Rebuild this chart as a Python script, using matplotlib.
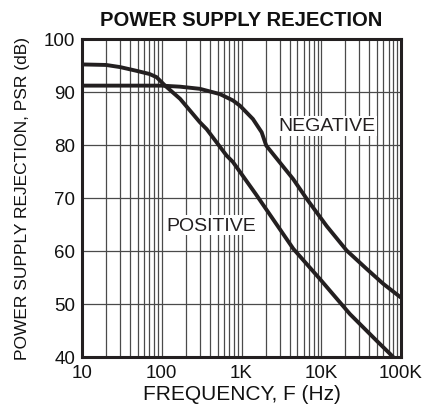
import matplotlib
matplotlib.use("Agg")
import matplotlib.pyplot as plt
import numpy as np
from matplotlib.ticker import LogLocator, FixedLocator, NullFormatter

plt.rcParams['font.family'] = ['Liberation Sans', 'DejaVu Sans']

# Data
pos_f = [10, 20, 30, 48, 70, 86, 110, 170, 300, 365, 650, 780, 1500, 3000, 4470, 9640, 22900, 50000, 72800, 100000]
pos_db = [95.2, 95.1, 94.7, 94.0, 93.4, 92.8, 91.2, 88.7, 84.3, 83.0, 78.0, 76.8, 70.8, 64.2, 60.4, 54.7, 48.1, 43.0, 40.6, 38.5]

neg_f = [10, 100, 170, 300, 537, 782, 958, 1390, 1790, 2040, 4430, 6600, 11700, 20800, 37200, 60000, 100000]
neg_db = [91.2, 91.2, 91.0, 90.6, 89.6, 88.4, 87.4, 84.9, 82.4, 79.9, 73.6, 69.8, 64.7, 60.1, 56.6, 53.8, 51.2]

x_ticks = [10, 100, 1000, 10000, 100000]
x_labels = ['10', '100', '1K', '10K', '100K']
y_ticks = [40, 50, 60, 70, 80, 90, 100]

fig = plt.figure(figsize=(4.25, 4.14), dpi=100)
ax = fig.add_axes([0.193, 0.1353, 0.7505, 0.7681])

ax.set_xscale('log')
ax.set_xlim(10, 100000)
ax.set_ylim(40, 100)

ax.xaxis.set_major_locator(FixedLocator(x_ticks))
ax.set_xticklabels(x_labels)
ax.xaxis.set_minor_locator(LogLocator(base=10, subs=np.arange(2, 10)))
ax.xaxis.set_minor_formatter(NullFormatter())
ax.set_yticks(y_ticks)

grid_kw = dict(color='#4a4a4a', linewidth=0.9)
ax.grid(True, which='major', axis='both', **grid_kw)
ax.grid(True, which='minor', axis='x', **grid_kw)
ax.set_axisbelow(True)

ax.tick_params(which='both', length=0, labelsize=13.5, colors='#111111')
ax.tick_params(axis='x', pad=5.4)
ax.tick_params(axis='y', pad=5)

ax.plot(pos_f, pos_db, color='#231f20', linewidth=2.8, solid_capstyle='butt', solid_joinstyle='round')
ax.plot(neg_f, neg_db, color='#231f20', linewidth=2.8, solid_capstyle='butt', solid_joinstyle='round')

for s in ax.spines.values():
    s.set_linewidth(2.2)
    s.set_color('#231f20')

ax.text(1.18e4, 83.6, 'NEGATIVE', fontsize=14, ha='center', va='center',
        color='#231f20', bbox=dict(facecolor='white', edgecolor='none', pad=1.0))
ax.text(415, 64.9, 'POSITIVE', fontsize=14, ha='center', va='center',
        color='#231f20', bbox=dict(facecolor='white', edgecolor='none', pad=1.0))

ax.set_title('POWER SUPPLY REJECTION', fontsize=14.6, fontweight='bold', pad=10, color='#111111')
ax.set_xlabel('FREQUENCY, F (Hz)', fontsize=15, labelpad=1.7, color='#111111')
ax.set_ylabel('POWER SUPPLY REJECTION, PSR (dB)', fontsize=12.5, labelpad=10, color='#111111')

fig.savefig('out.png', dpi=100)
